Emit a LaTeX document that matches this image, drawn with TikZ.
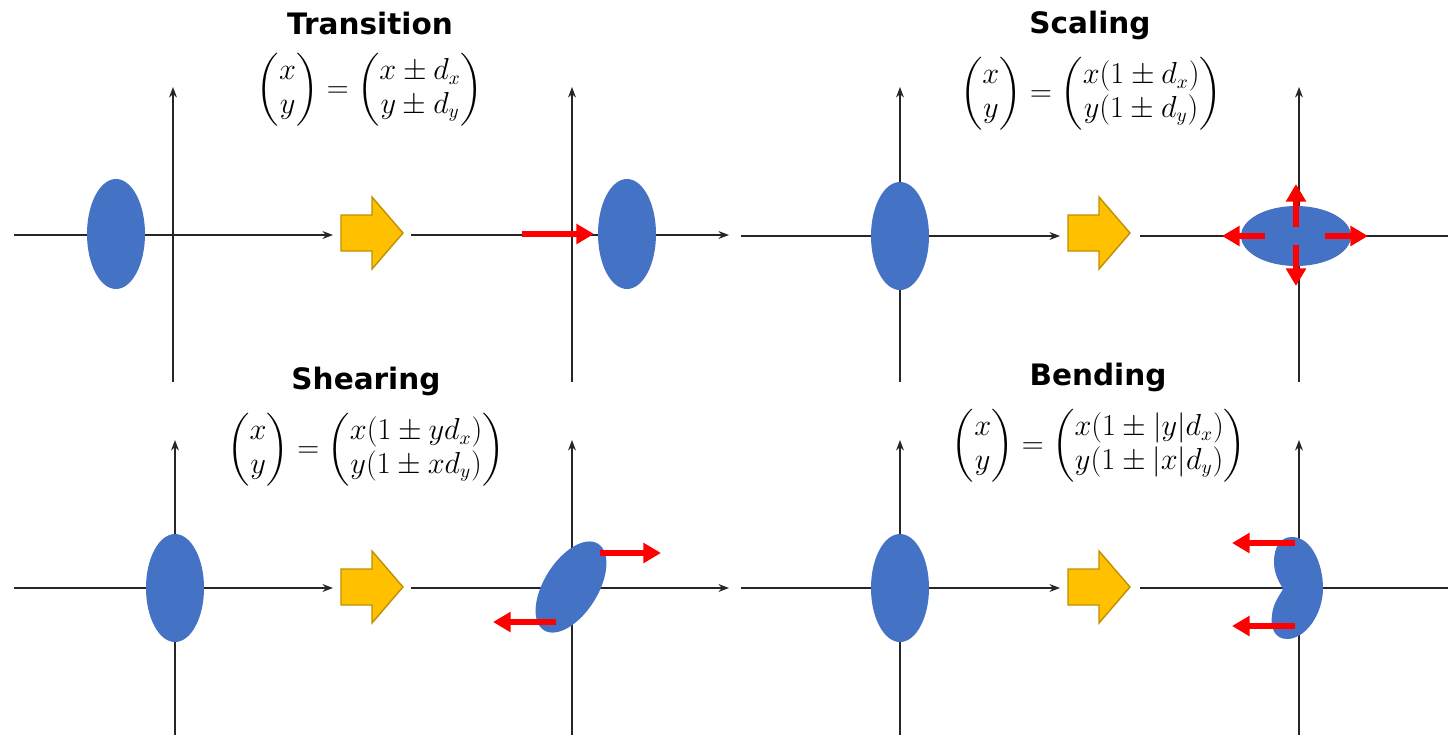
\documentclass[tikz,border=0pt]{standalone}
\usepackage{amsmath}
\usepackage{fontspec}
\setsansfont{DejaVu Sans}
\usetikzlibrary{arrows.meta}
\definecolor{blobblue}{HTML}{4472C4}
\definecolor{bigyellow}{HTML}{FFC000}
\definecolor{bigedge}{HTML}{BF9000}
\begin{document}
\begin{tikzpicture}[x=0.02cm, y=-0.02cm,
    axis/.style={-{Stealth[length=6pt,width=4.5pt]}, line width=0.7pt, black!85},
    blob/.style={fill=blobblue, draw=none},
    push/.style={-{Triangle[length=10pt,width=11pt]}, line width=3pt, red},
    bigarrow/.style={fill=bigyellow, draw=bigedge, line width=0.8pt, line join=miter},
    title/.style={font=\sffamily\bfseries\fontsize{16.8}{20}\selectfont, anchor=base, inner sep=0pt},
    formula/.style={font=\fontsize{16}{19}\selectfont, inner sep=0pt}]
    \useasboundingbox (0,0) rectangle (1448,735);

    % 坐标轴 (上)
    \draw[axis] (14,235) -- (333,235);
    \draw[axis] (173,382) -- (173,87);
    \draw[axis] (411,235) -- (729,235);
    \draw[axis] (572,382) -- (572,87);
    \draw[axis] (741,236) -- (1060,236);
    \draw[axis] (900,382) -- (900,87);
    \draw[axis, -] (1140,236) -- (1448,236);
    \draw[axis] (1299,382) -- (1299,87);

    % 坐标轴 (下)
    \draw[axis] (14,588) -- (333,588);
    \draw[axis] (175,735) -- (175,440);
    \draw[axis] (411,588) -- (729,588);
    \draw[axis] (572,735) -- (572,440);
    \draw[axis] (741,588) -- (1060,588);
    \draw[axis] (900,735) -- (900,440);
    \draw[axis, -] (1140,588) -- (1448,588);
    \draw[axis] (1299,735) -- (1299,440);

    % 黄色箭头
    \foreach \ax/\ay in {341/233, 1068/233, 341/587, 1068/587}
        \draw[bigarrow, shift={(\ax,\ay)}] (0,-18) -- (31,-18) -- (31,-36) -- (62,0)
            -- (31,36) -- (31,18) -- (0,18) -- cycle;

    % Transition
    \node[title] (t1) at (370,34) {Transition};
    \node[formula] (f1) at (370,90) {$\begin{pmatrix} x\\ y\end{pmatrix} = \begin{pmatrix} x\pm d_x\\ y\pm d_y\end{pmatrix}$};
    \fill[blob] (116,234) ellipse [x radius=29, y radius=55];
    \fill[blob] (627,234) ellipse [x radius=29, y radius=55];
    \draw[push] (522,234) -- (594,234);

    % Scaling
    \node[title] (t2) at (1090,33) {Scaling};
    \node[formula] (f2) at (1091,94) {$\begin{pmatrix} x\\ y\end{pmatrix} = \begin{pmatrix} x(1\pm d_x)\\ y(1\pm d_y)\end{pmatrix}$};
    \fill[blob] (900,236) ellipse [x radius=29, y radius=54];
    \fill[blob] (1296,236) ellipse [x radius=55, y radius=30];
    \draw[push] (1296,227) -- (1296,184);
    \draw[push] (1296,245) -- (1296,286);
    \draw[push] (1265,236) -- (1222,236);
    \draw[push] (1325,236) -- (1368,236);

    % Shearing
    \node[title] (t3) at (366,389) {Shearing};
    \node[formula] (f3) at (366,450) {$\begin{pmatrix} x\\ y\end{pmatrix} = \begin{pmatrix} x(1\pm yd_x)\\ y(1\pm xd_y)\end{pmatrix}$};
    \fill[blob] (175,588) ellipse [x radius=29, y radius=54];
    \fill[blob] (571,587) ellipse [x radius=51, y radius=27, rotate=58];
    \draw[push] (600,553) -- (661,553);
    \draw[push] (556,622) -- (493,622);

    % Bending
    \node[title] (t4) at (1098,385) {Bending};
    \node[formula] (f4) at (1099,446) {$\begin{pmatrix} x\\ y\end{pmatrix} = \begin{pmatrix} x(1\pm |y|d_x)\\ y(1\pm |x|d_y)\end{pmatrix}$};
    \fill[blob] (900,588) ellipse [x radius=29, y radius=54];
    \fill[blob] (1292,537) .. controls (1312,537) and (1323,565) .. (1323,588)
        .. controls (1323,615) and (1305,639) .. (1287,639)
        .. controls (1275,639) and (1270,628) .. (1272,615)
        .. controls (1273,603) and (1280,595) .. (1283,589)
        .. controls (1280,583) and (1274,575) .. (1274,562)
        .. controls (1274,546) and (1281,537) .. (1292,537) -- cycle;
    \draw[push] (1295,543) -- (1232,543);
    \draw[push] (1295,626) -- (1232,626);
\end{tikzpicture}
\end{document}
